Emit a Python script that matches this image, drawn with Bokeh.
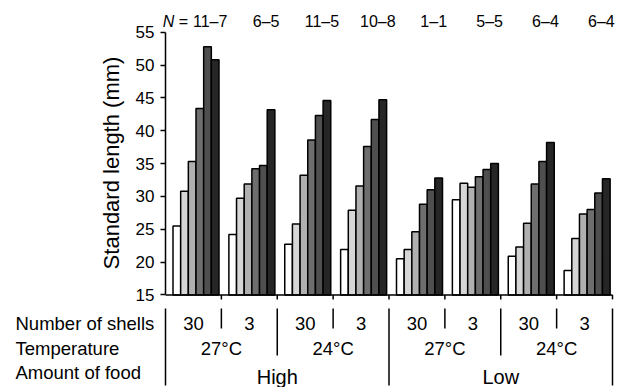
import math
from bokeh.plotting import figure
from bokeh.models import Range1d, FixedTicker
from bokeh.core.properties import value
from bokeh.embed import file_html
from bokeh.resources import INLINE

# ---------------- data ----------------
n_labels = ["11\u20137", "6\u20135", "11\u20135", "10\u20138", "1\u20131", "5\u20135", "6\u20134", "6\u20134"]
shells = ["30", "3", "30", "3", "30", "3", "30", "3"]
temperature = ["27\u00b0C", "24\u00b0C", "27\u00b0C", "24\u00b0C"]
food = ["High", "Low"]
row_titles = ["Number of shells", "Temperature", "Amount of food"]
y_title = "Standard length (mm)"
y_ticks = [15, 20, 25, 30, 35, 40, 45, 50, 55]

g1 = [25.5, 30.8, 35.3, 43.4, 52.8, 50.8]
g2 = [24.2, 29.7, 31.9, 34.2, 34.7, 43.2]
g3 = [22.7, 25.8, 33.2, 38.6, 42.3, 44.6]
g4 = [21.9, 27.9, 31.6, 37.6, 41.7, 44.7]
g5 = [20.5, 21.9, 24.6, 28.8, 31.0, 32.8]
g6 = [29.5, 32.0, 31.4, 33.0, 34.1, 35.0]
g7 = [20.9, 22.3, 25.9, 31.9, 35.3, 38.2]
g8 = [18.7, 23.6, 27.3, 28.0, 30.5, 32.7]
groups = [g1, g2, g3, g4, g5, g6, g7, g8]

bar_colors = ["#ffffff", "#d6d6d6", "#b0b0b0", "#6e6e6e", "#4f4f4f", "#262626"]

# ---------------- layout helpers ----------------
W, H = 627, 387
AX_X = 165.0          # pixel of the y axis / x = 0
GW = 55.875           # pixel width of one group
PXU = 6.5675          # pixels per mm
Y55 = 31.7            # pixel of 55
y_hi = 55 + Y55 / PXU
y_lo = y_hi - H / PXU

def ypx(py):
    return y_hi - py / PXU

def xpx(px):
    return (px - AX_X) / GW

FONT = "Liberation Sans"

p = figure(width=W, height=H,
           x_range=Range1d(xpx(0), xpx(W)),
           y_range=Range1d(y_lo, y_hi),
           x_axis_type=None,
           output_backend="svg", toolbar_location=None,
           min_border_left=0, min_border_right=0,
           min_border_top=0, min_border_bottom=0)
p.outline_line_color = None
p.grid.visible = False
p.background_fill_color = "white"
p.border_fill_color = "white"

ax = p.yaxis[0]
ax.fixed_location = 0
ax.bounds = (15, 55)
ax.ticker = FixedTicker(ticks=y_ticks)
ax.axis_line_width = 1.5
ax.axis_line_color = "black"
ax.major_tick_line_width = 1.5
ax.major_tick_line_color = "black"
ax.major_tick_out = 5
ax.major_tick_in = 0
ax.minor_tick_line_color = None
ax.major_label_text_font = FONT
ax.major_label_text_font_size = "17px"
ax.major_label_text_color = "black"
ax.major_label_standoff = 6

# y axis title, drawn rotated beside the axis
p.text(x=[xpx(111)], y=[ypx(162.5)], text=[y_title], angle=math.pi / 2,
       text_align="center", text_baseline="middle",
       text_font=value(FONT), text_font_size="22px", text_color="black")

# ---------------- bars ----------------
n_bars = len(bar_colors)
bw = 46.0 / n_bars / GW
start = 7.5 / GW
xs, tops, cols = [], [], []
for gi, vals in enumerate(groups):
    for i, v in enumerate(vals):
        xs.append(gi + start + (i + 0.5) * bw)
        tops.append(v)
        cols.append(bar_colors[i])
p.vbar(x=xs, top=tops, bottom=15, width=bw, fill_color=cols,
       line_color="black", line_width=1.5)

ng = len(groups)
# x axis line and group ticks
p.segment(x0=[0], y0=[15], x1=[ng], y1=[15], line_color="black", line_width=1.5)
p.segment(x0=list(range(1, ng + 1)), y0=[15] * ng, x1=list(range(1, ng + 1)),
          y1=[ypx(294.4 + 4.5)] * ng, line_color="black", line_width=1.5)

# ---------------- N labels ----------------
ny = ypx(20.5)
p.text(x=[g + 0.5 + 0.3 for g in range(ng)], y=[ny] * ng, text=n_labels,
       text_align="center", text_baseline="middle",
       text_font=value(FONT), text_font_size="16px", text_color="black")
first_left = 0.8 - (len(n_labels[0]) * 0.556 * 16) / 2 / GW
p.text(x=[first_left - 4.4 / GW], y=[ny], text=["="], text_align="right",
       text_baseline="middle", text_font=value(FONT), text_font_size="16px",
       text_color="black")
p.text(x=[first_left - (4.4 + 9.3 + 4.4) / GW], y=[ny], text=["N"], text_align="right",
       text_baseline="middle", text_font=value(FONT), text_font_size="16px",
       text_font_style="italic", text_color="black")

# ---------------- table below ----------------
top_y = ypx(308)
short_y = ypx(328)
mid_y = ypx(355)
full_y = ypx(385)
sx, sy1 = [], []
for k in range(ng + 1):
    sx.append(k)
    if k % 4 == 0:
        sy1.append(full_y)
    elif k % 2 == 0:
        sy1.append(mid_y)
    else:
        sy1.append(short_y)
p.segment(x0=sx, y0=[top_y] * len(sx), x1=sx, y1=sy1, line_color="black", line_width=1.5)

p.text(x=[g + 0.5 for g in range(ng)], y=[ypx(322.5)] * ng, text=shells,
       text_align="center", text_baseline="middle",
       text_font=value(FONT), text_font_size="18.5px", text_color="black")
p.text(x=[2 * k + 1 for k in range(len(temperature))], y=[ypx(347.5)] * len(temperature),
       text=temperature, text_align="center", text_baseline="middle",
       text_font=value(FONT), text_font_size="18.5px", text_color="black")
p.text(x=[4 * k + 2 for k in range(len(food))], y=[ypx(376)] * len(food),
       text=food, text_align="center", text_baseline="middle",
       text_font=value(FONT), text_font_size="20px", text_color="black")

p.text(x=[xpx(15)] * len(row_titles), y=[ypx(322.5), ypx(347.5), ypx(372)],
       text=row_titles, text_align="left", text_baseline="middle",
       text_font=value(FONT), text_font_size="18.5px", text_color="black")

open("out.html", "w").write(file_html(p, INLINE))
